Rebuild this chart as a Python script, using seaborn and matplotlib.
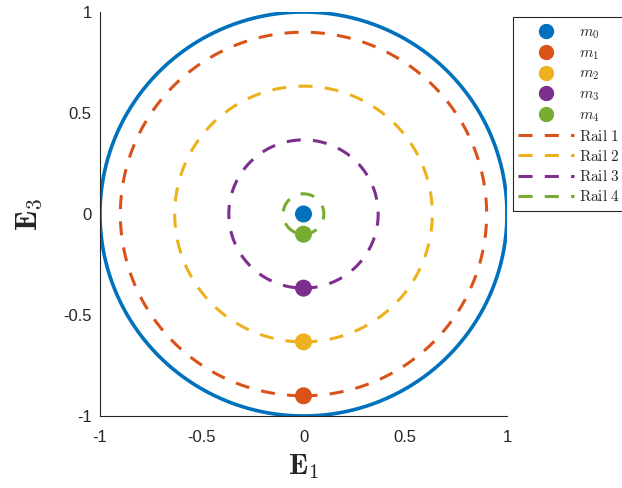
import numpy as np
import pandas as pd
import matplotlib
matplotlib.use("Agg")
import matplotlib.pyplot as plt
from matplotlib.patches import Rectangle
import seaborn as sns

# Rail radii and mass positions (E1, E3)
rail_names = ["Rail 1", "Rail 2", "Rail 3", "Rail 4"]
rail_radii = [0.9, 0.633, 0.367, 0.1]
mass_labels = [r"$m_0$", r"$m_1$", r"$m_2$", r"$m_3$", r"$m_4$"]
mass_e1 = [0.0, 0.0, 0.0, 0.0, 0.0]
mass_e3 = [0.0, -0.9, -0.633, -0.367, -0.1]
outer_radius = 1.0

x_ticks = [-1, -0.5, 0, 0.5, 1]
x_tick_labels = ["-1", "-0.5", "0", "0.5", "1"]
y_ticks = [-1, -0.5, 0, 0.5, 1]
y_tick_labels = ["-1", "-0.5", "0", "0.5", "1"]

# MATLAB default colour order
mass_colors = ["#0072BD", "#D95319", "#EDB120", "#7E2F8E", "#77AC30"]
rail_colors = ["#D95319", "#EDB120", "#7E2F8E", "#77AC30"]
dash = (0, (4.6, 4.0))

sns.set_style("white")
plt.rcParams["font.family"] = ["Liberation Sans", "DejaVu Sans"]
plt.rcParams["mathtext.fontset"] = "cm"

W, H = 622, 488
fig = plt.figure(figsize=(W / 100, H / 100), dpi=100)
ax = fig.add_axes([100 / W, 1 - 416 / H, 407 / W, 404 / H])

theta = np.linspace(0, 2 * np.pi, 721)

# outer boundary circle
outer = pd.DataFrame({"x": outer_radius * np.cos(theta), "y": outer_radius * np.sin(theta)})
sns.lineplot(data=outer, x="x", y="y", sort=False, estimator=None, ax=ax,
             color="#0072BD", linewidth=2.6, legend=False)

# mass points
mass_handles = []
for lbl, x0, y0, c in zip(mass_labels, mass_e1, mass_e3, mass_colors):
    sns.scatterplot(x=[x0], y=[y0], ax=ax, color=c, s=150, edgecolor="none",
                    zorder=5, legend=False)
    mass_handles.append(plt.Line2D([], [], linestyle="none", marker="o",
                                   markersize=10, color=c, label=lbl))

# dashed rails
rail_handles = []
for name, r, c in zip(rail_names, rail_radii, rail_colors):
    df = pd.DataFrame({"x": r * np.sin(theta), "y": -r * np.cos(theta)})
    sns.lineplot(data=df, x="x", y="y", sort=False, estimator=None, ax=ax,
                 color=c, linewidth=2.2, legend=False, zorder=3)
    ax.lines[-1].set_linestyle(dash)
    rail_handles.append(plt.Line2D([], [], color=c, linewidth=2.2,
                                   linestyle=dash,
                                   label=r"$\mathrm{" + name.replace(" ", r"\ ") + "}$"))

ax.set_xlim(-1, 1)
ax.set_ylim(-1, 1)
ax.set_xticks(x_ticks)
ax.set_xticklabels(x_tick_labels)
ax.set_yticks(y_ticks)
ax.set_yticklabels(y_tick_labels)
ax.tick_params(direction="in", length=4, width=0.8, labelsize=12,
               colors="#262626")
ax.tick_params(axis="x", pad=10)
ax.tick_params(axis="y", pad=6)
for side in ["top", "right"]:
    ax.spines[side].set_visible(False)
for side in ["left", "bottom"]:
    ax.spines[side].set_color("#262626")
    ax.spines[side].set_linewidth(0.8)

ax.set_xlabel(r"$\mathbf{E}_1$", fontsize=21, labelpad=5, color="#262626")
ax.set_ylabel(r"$\mathbf{E}_3$", fontsize=22, labelpad=14, color="#262626")

# legend entries, with a separately drawn frame that runs past the right edge
fig.legend(handles=mass_handles + rail_handles,
           loc="upper left", bbox_to_anchor=(513 / W, 1 - 21 / H),
           fontsize=11, frameon=False,
           handlelength=3.7, labelspacing=0.33, handletextpad=0.35,
           borderaxespad=0, borderpad=0.3)
fig.patches.append(Rectangle((513 / W, 1 - 211 / H), 130 / W, 194 / H,
                             transform=fig.transFigure, fill=False,
                             edgecolor="#262626", linewidth=0.8))

fig.savefig("out.png", dpi=100)
